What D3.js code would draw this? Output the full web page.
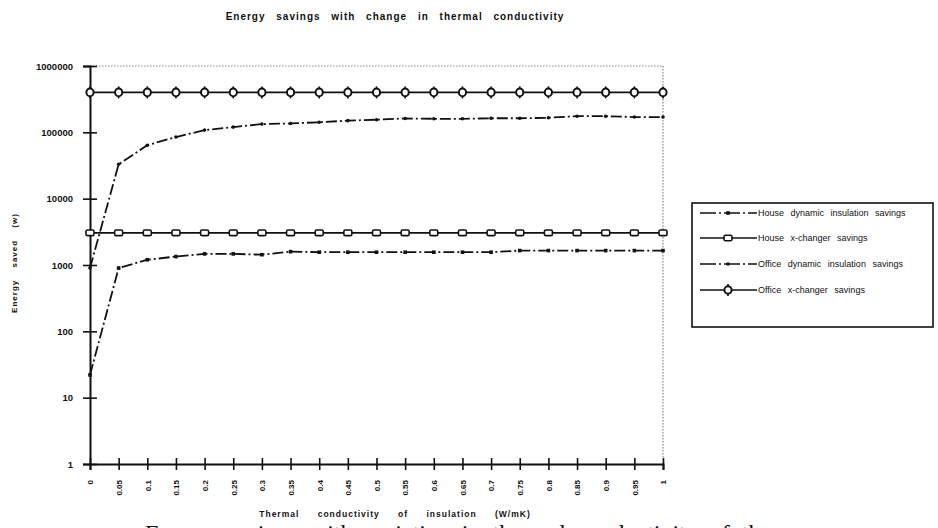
<!DOCTYPE html>
<html><head><meta charset="utf-8">
<script src="https://cdn.jsdelivr.net/npm/d3@7"></script>
<style>
html,body{margin:0;padding:0;background:#fff;overflow:hidden}
svg{display:block}
text{font-family:"Liberation Sans",Arial,sans-serif;fill:#111}
</style></head><body>
<svg id="chart" width="938" height="528"></svg>
<script>
// ---- data ----
const categories = ["0","0.05","0.1","0.15","0.2","0.25","0.3","0.35","0.4","0.45","0.5","0.55","0.6","0.65","0.7","0.75","0.8","0.85","0.9","0.95","1"];
const houseDynamic = [22,900,1200,1340,1470,1470,1430,1590,1560,1560,1560,1560,1560,1560,1560,1650,1650,1650,1650,1650,1650];
const houseXchanger = [3050,3050,3050,3050,3050,3050,3050,3050,3050,3050,3050,3050,3050,3050,3050,3050,3050,3050,3050,3050,3050];
const officeDynamic = [900,33000,64000,85000,108000,120000,133000,136000,142000,150000,155000,162000,160000,160000,163000,163000,166000,175000,175000,170000,170000];
const officeXchanger = [400000,400000,400000,400000,400000,400000,400000,400000,400000,400000,400000,400000,400000,400000,400000,400000,400000,400000,400000,400000,400000];
const yTicks = [1,10,100,1000,10000,100000,1000000];
const seriesNames = ["House dynamic insulation savings","House x-changer savings","Office dynamic insulation savings","Office x-changer savings"];

const svg = d3.select("#chart");
const L = 90, R = 663, T = 66, B = 464;
const x = d3.scalePoint().domain(categories).range([L, R]);
const y = d3.scaleLog().domain([1, 1000000]).range([B, T]);

// title
svg.append("text").attr("x", 395).attr("y", 20).attr("text-anchor", "middle")
  .style("font-size", "10px").style("font-weight", "bold").style("letter-spacing", "1px").style("word-spacing", "7px")
  .text("Energy savings with change in thermal conductivity");

// dotted top/right frame
svg.append("line").attr("x1", L).attr("x2", R).attr("y1", T).attr("y2", T)
  .attr("stroke", "#888").attr("stroke-width", 1.2).attr("stroke-dasharray", "1.5,1.5");
svg.append("line").attr("x1", R).attr("x2", R).attr("y1", T).attr("y2", B)
  .attr("stroke", "#888").attr("stroke-width", 1.2).attr("stroke-dasharray", "1.5,1.5");

// y axis
const yAxis = d3.axisLeft(y).tickValues(yTicks).tickFormat(d3.format("d")).tickSize(7).tickPadding(10);
const gy = svg.append("g").attr("transform", `translate(${L},0)`).call(yAxis);
gy.select(".domain").attr("stroke", "#111").attr("stroke-width", 2);
gy.selectAll(".tick line").attr("stroke", "#111").attr("stroke-width", 1.6).attr("x2", 7).attr("x1", -7);
gy.selectAll(".tick text").style("font-size", "9.5px").style("font-weight", "bold")
  .style("font-family", "'Liberation Sans Narrow','Liberation Sans',sans-serif").attr("x", -17);

// x axis
const xAxis = d3.axisBottom(x).tickSize(6).tickPadding(6);
const gx = svg.append("g").attr("transform", `translate(0,${B})`).call(xAxis);
gx.select(".domain").attr("stroke", "#111").attr("stroke-width", 2);
gx.selectAll(".tick line").attr("stroke", "#111").attr("stroke-width", 1.6).attr("y1", -6).attr("y2", 6);
gx.selectAll(".tick text").style("font-size", "8px").style("font-weight", "bold")
  .attr("transform", "rotate(-90)").attr("text-anchor", "end").attr("dy", "0.35em")
  .attr("x", -16).attr("y", 0);

// axis titles
svg.append("text").attr("x", 395).attr("y", 517).attr("text-anchor", "middle")
  .style("font-size", "8.5px").style("font-weight", "bold").style("word-spacing", "15px").style("letter-spacing", "1px")
  .text("Thermal conductivity of insulation (W/mK)");
svg.append("text").attr("transform", "translate(17,263) rotate(-90)").attr("text-anchor", "middle")
  .style("font-size", "8px").style("font-weight", "bold").style("letter-spacing", "1px").style("word-spacing", "9px")
  .text("Energy saved (w)");

// series
const dashDot = "11,3,2,3";
const seriesDefs = [
  {name: seriesNames[0], data: houseDynamic, dash: dashDot, marker: "sqfill"},
  {name: seriesNames[1], data: houseXchanger, dash: null, marker: "rect"},
  {name: seriesNames[2], data: officeDynamic, dash: dashDot, marker: "dot"},
  {name: seriesNames[3], data: officeXchanger, dash: null, marker: "circle"}
];
const line = d3.line().x((d, i) => x(categories[i])).y(d => y(d));

function drawMarker(g, type, cx, cy) {
  if (type === "sqfill") {
    g.append("rect").attr("x", cx - 1.8).attr("y", cy - 1.8).attr("width", 3.6).attr("height", 3.6).attr("fill", "#111");
  } else if (type === "rect") {
    g.append("rect").attr("x", cx - 4).attr("y", cy - 2.8).attr("width", 8).attr("height", 5.6).attr("rx", 1.5)
      .attr("fill", "#fff").attr("stroke", "#111").attr("stroke-width", 1.6);
  } else if (type === "dot") {
    g.append("circle").attr("cx", cx).attr("cy", cy).attr("r", 1.8).attr("fill", "#111");
  } else if (type === "circle") {
    g.append("line").attr("x1", cx).attr("x2", cx).attr("y1", cy - 6).attr("y2", cy + 6).attr("stroke", "#111").attr("stroke-width", 1.6);
    g.append("ellipse").attr("cx", cx).attr("cy", cy).attr("rx", 3.6).attr("ry", 3.8)
      .attr("fill", "#fff").attr("stroke", "#111").attr("stroke-width", 2);
  }
}

seriesDefs.forEach(s => {
  const g = svg.append("g");
  g.append("path").datum(s.data).attr("d", line).attr("fill", "none").attr("stroke", "#111")
    .attr("stroke-width", 1.8).attr("stroke-dasharray", s.dash);
  s.data.forEach((v, i) => drawMarker(g, s.marker, x(categories[i]), y(v)));
});

// legend
const lg = svg.append("g");
lg.append("rect").attr("x", 692).attr("y", 203).attr("width", 241).attr("height", 124)
  .attr("fill", "#fff").attr("stroke", "#111").attr("stroke-width", 1.6);
const legY = [213, 238, 264, 290];
seriesDefs.forEach((s, i) => {
  const yy = legY[i];
  lg.append("line").attr("x1", 700).attr("x2", 757).attr("y1", yy).attr("y2", yy)
    .attr("stroke", "#111").attr("stroke-width", 1.6).attr("stroke-dasharray", s.dash ? "16,3,2,3" : null);
  drawMarker(lg, s.marker, 728, yy);
  lg.append("text").attr("x", 758).attr("y", yy).attr("dy", "0.35em")
    .style("font-size", "9px").style("word-spacing", "4px").text(s.name);
});

// clipped document caption beneath the figure (only its top shows in the reference)
svg.append("text").attr("x", 145).attr("y", 541)
  .style("font-family", "'Liberation Serif','DejaVu Serif',serif").style("font-size", "24px")
  .style("word-spacing", "6px")
  .text("Energy savings with variation in thermal conductivity of the");
</script>
</body></html>
